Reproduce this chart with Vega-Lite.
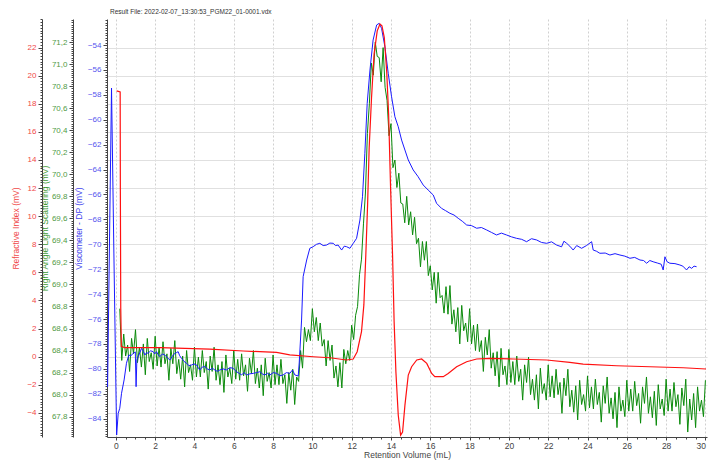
{
"$schema": "https://vega.github.io/schema/vega-lite/v6.json",
"width": 600, "height": 418,
"autosize": {"type": "none"},
"padding": {"left": 107, "top": 19, "right": 2, "bottom": 24},
"background": "white",
"title": {"text": "Result File: 2022-02-07_13:30:53_PGM22_01-0001.vdx", "anchor": "start", "frame": "group", "fontSize": 6.5, "fontWeight": "normal", "color": "#333333", "offset": 3, "dx": 3, "font": "Liberation Sans"},
"config": {"view": {"stroke": null}, "font": "Liberation Sans", "axis": {"labelFontSize": 8, "titleFontSize": 8.5, "titleFontWeight": "normal", "tickColor": "#444444", "domainColor": "#444444", "labelOverlap": false, "labelFlush": false}},
"datasets": {
"green": [
{"v":0.2,"g":68.78},{"v":0.3,"g":68.31},{"v":0.4,"g":68.55},{"v":0.5,"g":68.35},{"v":0.6,"g":68.45},{"v":0.7,"g":68.21},{"v":0.8,"g":68.51},{"v":0.9,"g":68.37},{"v":1.0,"g":68.59},{"v":1.1,"g":68.29},
{"v":1.2,"g":68.43},{"v":1.3,"g":68.25},{"v":1.4,"g":68.46},{"v":1.5,"g":68.18},{"v":1.6,"g":68.51},{"v":1.7,"g":68.30},{"v":1.8,"g":68.38},{"v":1.9,"g":68.23},{"v":2.0,"g":68.53},{"v":2.1,"g":68.26},
{"v":2.2,"g":68.43},{"v":2.3,"g":68.25},{"v":2.4,"g":68.48},{"v":2.5,"g":68.28},{"v":2.6,"g":68.37},{"v":2.7,"g":68.13},{"v":2.8,"g":68.42},{"v":2.9,"g":68.28},{"v":3.0,"g":68.49},{"v":3.1,"g":68.19},
{"v":3.2,"g":68.32},{"v":3.3,"g":68.14},{"v":3.4,"g":68.35},{"v":3.5,"g":68.07},{"v":3.6,"g":68.40},{"v":3.7,"g":68.20},{"v":3.8,"g":68.27},{"v":3.9,"g":68.13},{"v":4.0,"g":68.43},{"v":4.1,"g":68.16},
{"v":4.2,"g":68.34},{"v":4.3,"g":68.16},{"v":4.4,"g":68.40},{"v":4.5,"g":68.20},{"v":4.6,"g":68.30},{"v":4.7,"g":68.05},{"v":4.8,"g":68.35},{"v":4.9,"g":68.21},{"v":5.0,"g":68.43},{"v":5.1,"g":68.13},
{"v":5.2,"g":68.27},{"v":5.3,"g":68.09},{"v":5.4,"g":68.30},{"v":5.5,"g":68.02},{"v":5.6,"g":68.36},{"v":5.7,"g":68.16},{"v":5.8,"g":68.24},{"v":5.9,"g":68.10},{"v":6.0,"g":68.40},{"v":6.1,"g":68.14},
{"v":6.2,"g":68.32},{"v":6.3,"g":68.13},{"v":6.4,"g":68.37},{"v":6.5,"g":68.17},{"v":6.6,"g":68.27},{"v":6.7,"g":68.03},{"v":6.8,"g":68.33},{"v":6.9,"g":68.19},{"v":7.0,"g":68.40},{"v":7.1,"g":68.10},
{"v":7.2,"g":68.24},{"v":7.3,"g":68.06},{"v":7.4,"g":68.27},{"v":7.5,"g":67.99},{"v":7.6,"g":68.33},{"v":7.7,"g":68.12},{"v":7.8,"g":68.20},{"v":7.9,"g":68.06},{"v":8.0,"g":68.36},{"v":8.1,"g":68.09},
{"v":8.2,"g":68.27},{"v":8.3,"g":68.09},{"v":8.4,"g":68.32},{"v":8.5,"g":68.10},{"v":8.6,"g":68.18},{"v":8.7,"g":67.92},{"v":8.8,"g":68.20},{"v":8.9,"g":68.04},{"v":9.0,"g":68.23},{"v":9.1,"g":67.91},
{"v":9.2,"g":68.16},{"v":9.3,"g":68.12},{"v":9.4,"g":68.40},{"v":9.5,"g":68.24},{"v":9.6,"g":68.61},{"v":9.7,"g":68.48},{"v":9.8,"g":68.59},{"v":9.9,"g":68.49},{"v":10.0,"g":68.78},{"v":10.1,"g":68.57},
{"v":10.2,"g":68.70},{"v":10.3,"g":68.49},{"v":10.4,"g":68.65},{"v":10.5,"g":68.44},{"v":10.6,"g":68.50},{"v":10.7,"g":68.26},{"v":10.8,"g":68.49},{"v":10.9,"g":68.31},{"v":11.0,"g":68.45},{"v":11.1,"g":68.15},
{"v":11.2,"g":68.26},{"v":11.3,"g":68.07},{"v":11.4,"g":68.29},{"v":11.5,"g":68.06},{"v":11.6,"g":68.41},{"v":11.7,"g":68.28},{"v":11.8,"g":68.40},{"v":11.9,"g":68.31},{"v":12.0,"g":68.63},{"v":12.1,"g":68.50},
{"v":12.2,"g":68.72},{"v":12.3,"g":68.80},{"v":12.4,"g":69.09},{"v":12.5,"g":69.23},{"v":12.6,"g":69.55},{"v":12.7,"g":69.83},{"v":12.8,"g":70.37},{"v":12.9,"g":70.64},{"v":13.0,"g":71.01},{"v":13.1,"g":70.90},
{"v":13.2,"g":71.20},{"v":13.3,"g":71.07},{"v":13.4,"g":71.06},{"v":13.5,"g":70.84},{"v":13.6,"g":71.15},{"v":13.7,"g":70.79},{"v":13.8,"g":70.67},{"v":13.9,"g":70.35},{"v":14.0,"g":70.46},{"v":14.1,"g":70.06},
{"v":14.2,"g":70.13},{"v":14.3,"g":69.88},{"v":14.4,"g":70.01},{"v":14.5,"g":69.74},{"v":14.6,"g":69.73},{"v":14.7,"g":69.56},{"v":14.8,"g":69.80},{"v":14.9,"g":69.54},{"v":15.0,"g":69.66},{"v":15.1,"g":69.45},
{"v":15.2,"g":69.61},{"v":15.3,"g":69.37},{"v":15.4,"g":69.42},{"v":15.5,"g":69.16},{"v":15.6,"g":69.39},{"v":15.7,"g":69.22},{"v":15.8,"g":69.39},{"v":15.9,"g":69.08},{"v":16.0,"g":69.17},{"v":16.1,"g":68.95},
{"v":16.2,"g":69.11},{"v":16.3,"g":68.83},{"v":16.4,"g":69.11},{"v":16.5,"g":68.88},{"v":16.6,"g":68.90},{"v":16.7,"g":68.74},{"v":16.8,"g":68.98},{"v":16.9,"g":68.73},{"v":17.0,"g":68.99},{"v":17.1,"g":68.64},
{"v":17.2,"g":68.77},{"v":17.3,"g":68.57},{"v":17.4,"g":68.79},{"v":17.5,"g":68.46},{"v":17.6,"g":68.81},{"v":17.7,"g":68.58},{"v":17.8,"g":68.65},{"v":17.9,"g":68.48},{"v":18.0,"g":68.78},{"v":18.1,"g":68.46},
{"v":18.2,"g":68.63},{"v":18.3,"g":68.40},{"v":18.4,"g":68.64},{"v":18.5,"g":68.39},{"v":18.6,"g":68.49},{"v":18.7,"g":68.21},{"v":18.8,"g":68.52},{"v":18.9,"g":68.36},{"v":19.0,"g":68.59},{"v":19.1,"g":68.24},
{"v":19.2,"g":68.38},{"v":19.3,"g":68.17},{"v":19.4,"g":68.39},{"v":19.5,"g":68.07},{"v":19.6,"g":68.42},{"v":19.7,"g":68.18},{"v":19.8,"g":68.26},{"v":19.9,"g":68.09},{"v":20.0,"g":68.41},{"v":20.1,"g":68.11},
{"v":20.2,"g":68.30},{"v":20.3,"g":68.09},{"v":20.4,"g":68.35},{"v":20.5,"g":68.12},{"v":20.6,"g":68.23},{"v":20.7,"g":67.95},{"v":20.8,"g":68.27},{"v":20.9,"g":68.11},{"v":21.0,"g":68.34},{"v":21.1,"g":68.00},
{"v":21.2,"g":68.14},{"v":21.3,"g":67.95},{"v":21.4,"g":68.18},{"v":21.5,"g":67.87},{"v":21.6,"g":68.24},{"v":21.7,"g":68.01},{"v":21.8,"g":68.10},{"v":21.9,"g":67.95},{"v":22.0,"g":68.27},{"v":22.1,"g":67.98},
{"v":22.2,"g":68.17},{"v":22.3,"g":67.97},{"v":22.4,"g":68.23},{"v":22.5,"g":68.00},{"v":22.6,"g":68.11},{"v":22.7,"g":67.83},{"v":22.8,"g":68.15},{"v":22.9,"g":67.99},{"v":23.0,"g":68.23},{"v":23.1,"g":67.89},
{"v":23.2,"g":68.04},{"v":23.3,"g":67.84},{"v":23.4,"g":68.08},{"v":23.5,"g":67.77},{"v":23.6,"g":68.13},{"v":23.7,"g":67.91},{"v":23.8,"g":68.00},{"v":23.9,"g":67.85},{"v":24.0,"g":68.17},{"v":24.1,"g":67.88},
{"v":24.2,"g":68.07},{"v":24.3,"g":67.87},{"v":24.4,"g":68.14},{"v":24.5,"g":67.91},{"v":24.6,"g":68.02},{"v":24.7,"g":67.75},{"v":24.8,"g":68.08},{"v":24.9,"g":67.92},{"v":25.0,"g":68.16},{"v":25.1,"g":67.83},
{"v":25.2,"g":67.97},{"v":25.3,"g":67.78},{"v":25.4,"g":68.02},{"v":25.5,"g":67.70},{"v":25.6,"g":68.07},{"v":25.7,"g":67.85},{"v":25.8,"g":67.95},{"v":25.9,"g":67.80},{"v":26.0,"g":68.13},{"v":26.1,"g":67.85},
{"v":26.2,"g":68.05},{"v":26.3,"g":67.85},{"v":26.4,"g":68.12},{"v":26.5,"g":67.90},{"v":26.6,"g":68.01},{"v":26.7,"g":67.74},{"v":26.8,"g":68.07},{"v":26.9,"g":67.92},{"v":27.0,"g":68.16},{"v":27.1,"g":67.83},
{"v":27.2,"g":67.98},{"v":27.3,"g":67.79},{"v":27.4,"g":68.03},{"v":27.5,"g":67.72},{"v":27.6,"g":68.09},{"v":27.7,"g":67.87},{"v":27.8,"g":67.96},{"v":27.9,"g":67.81},{"v":28.0,"g":68.14},{"v":28.1,"g":67.85},
{"v":28.2,"g":68.05},{"v":28.3,"g":67.85},{"v":28.4,"g":68.11},{"v":28.5,"g":67.89},{"v":28.6,"g":68.00},{"v":28.7,"g":67.73},{"v":28.8,"g":68.06},{"v":28.9,"g":67.90},{"v":29.0,"g":68.14},{"v":29.1,"g":67.66},
{"v":29.2,"g":67.96},{"v":29.3,"g":67.77},{"v":29.4,"g":68.01},{"v":29.5,"g":67.70},{"v":29.6,"g":68.07},{"v":29.7,"g":67.85},{"v":29.8,"g":67.95},{"v":29.9,"g":67.80},{"v":30.0,"g":68.13}
],
"blue": [
{"v":-0.42,"b":-81.45},{"v":-0.32,"b":-69.41},{"v":-0.22,"b":-57.45},{"v":-0.10,"b":-70.70},{"v":0.04,"b":-85.31},{"v":0.12,"b":-83.57},{"v":0.20,"b":-83.16},{"v":0.29,"b":-81.96},{"v":0.42,"b":-80.89},{"v":0.54,"b":-79.55},
{"v":0.66,"b":-78.89},{"v":0.77,"b":-78.95},{"v":0.88,"b":-78.75},{"v":0.99,"b":-78.64},{"v":1.03,"b":-81.43},{"v":1.07,"b":-79.29},{"v":1.13,"b":-79.02},{"v":1.22,"b":-78.70},{"v":1.31,"b":-78.35},{"v":1.40,"b":-78.60},
{"v":1.48,"b":-78.89},{"v":1.56,"b":-78.70},{"v":1.64,"b":-78.75},{"v":1.77,"b":-78.55},{"v":1.90,"b":-78.62},{"v":1.98,"b":-78.80},{"v":2.07,"b":-78.62},{"v":2.15,"b":-78.85},{"v":2.24,"b":-79.02},{"v":2.37,"b":-78.80},
{"v":2.49,"b":-78.89},{"v":2.62,"b":-79.10},{"v":2.75,"b":-79.29},{"v":2.87,"b":-79.00},{"v":3.00,"b":-78.75},{"v":3.08,"b":-78.70},{"v":3.17,"b":-78.62},{"v":3.25,"b":-78.95},{"v":3.34,"b":-79.15},{"v":3.47,"b":-79.40},
{"v":3.60,"b":-79.55},{"v":3.72,"b":-79.75},{"v":3.85,"b":-79.69},{"v":3.98,"b":-79.60},{"v":4.11,"b":-79.69},{"v":4.19,"b":-79.90},{"v":4.27,"b":-80.09},{"v":4.40,"b":-79.85},{"v":4.53,"b":-79.82},{"v":4.65,"b":-80.00},
{"v":4.78,"b":-80.09},{"v":4.91,"b":-79.95},{"v":5.04,"b":-80.09},{"v":5.16,"b":-80.20},{"v":5.29,"b":-80.09},{"v":5.46,"b":-80.00},{"v":5.63,"b":-80.09},{"v":5.80,"b":-79.90},{"v":5.97,"b":-79.95},{"v":6.05,"b":-80.10},
{"v":6.14,"b":-80.23},{"v":6.27,"b":-80.35},{"v":6.40,"b":-80.49},{"v":6.52,"b":-80.30},{"v":6.65,"b":-80.49},{"v":6.82,"b":-80.40},{"v":6.99,"b":-80.36},{"v":7.16,"b":-80.30},{"v":7.33,"b":-80.23},{"v":7.45,"b":-80.40},
{"v":7.58,"b":-80.49},{"v":7.71,"b":-80.35},{"v":7.84,"b":-80.49},{"v":8.01,"b":-80.30},{"v":8.18,"b":-80.36},{"v":8.35,"b":-80.55},{"v":8.51,"b":-80.49},{"v":8.68,"b":-80.30},{"v":8.85,"b":-80.36},{"v":8.99,"b":-80.09},
{"v":9.11,"b":-80.49},{"v":9.28,"b":-80.57},{"v":9.33,"b":-79.53},{"v":9.45,"b":-76.08},{"v":9.53,"b":-72.60},{"v":9.71,"b":-71.26},{"v":9.87,"b":-70.32},{"v":10.04,"b":-70.19},{"v":10.21,"b":-70.00},{"v":10.38,"b":-69.92},
{"v":10.55,"b":-70.10},{"v":10.72,"b":-70.06},{"v":10.89,"b":-69.90},{"v":11.06,"b":-69.92},{"v":11.18,"b":-70.10},{"v":11.31,"b":-70.06},{"v":11.49,"b":-70.46},{"v":11.62,"b":-70.15},{"v":11.74,"b":-70.19},{"v":11.91,"b":-70.32},
{"v":12.08,"b":-69.92},{"v":12.25,"b":-69.52},{"v":12.42,"b":-68.05},{"v":12.55,"b":-66.18},{"v":12.67,"b":-62.69},{"v":12.79,"b":-58.68},{"v":12.93,"b":-56.01},{"v":13.09,"b":-53.60},{"v":13.27,"b":-52.39},{"v":13.40,"b":-52.26},
{"v":13.52,"b":-52.66},{"v":13.69,"b":-54.14},{"v":13.86,"b":-56.27},{"v":14.03,"b":-58.15},{"v":14.20,"b":-59.76},{"v":14.37,"b":-60.56},{"v":14.54,"b":-61.63},{"v":14.71,"b":-62.43},{"v":14.88,"b":-63.23},{"v":15.13,"b":-64.03},
{"v":15.38,"b":-64.57},{"v":15.64,"b":-65.24},{"v":15.89,"b":-65.64},{"v":16.15,"b":-66.04},{"v":16.32,"b":-66.71},{"v":16.57,"b":-67.11},{"v":16.78,"b":-67.30},{"v":17.00,"b":-67.51},{"v":17.21,"b":-67.65},{"v":17.42,"b":-67.91},
{"v":17.63,"b":-68.15},{"v":17.85,"b":-68.45},{"v":18.10,"b":-68.50},{"v":18.36,"b":-68.71},{"v":18.60,"b":-68.65},{"v":18.87,"b":-68.85},{"v":19.12,"b":-69.05},{"v":19.37,"b":-69.25},{"v":19.62,"b":-69.10},{"v":19.88,"b":-69.25},
{"v":20.13,"b":-69.40},{"v":20.39,"b":-69.52},{"v":20.65,"b":-69.60},{"v":20.90,"b":-69.79},{"v":21.15,"b":-69.55},{"v":21.41,"b":-69.65},{"v":21.66,"b":-69.85},{"v":21.92,"b":-69.92},{"v":22.17,"b":-69.80},{"v":22.43,"b":-70.06},
{"v":22.68,"b":-70.20},{"v":22.80,"b":-69.75},{"v":22.94,"b":-69.92},{"v":23.10,"b":-70.15},{"v":23.27,"b":-70.46},{"v":23.45,"b":-70.10},{"v":23.70,"b":-70.32},{"v":23.95,"b":-70.10},{"v":24.21,"b":-69.79},{"v":24.29,"b":-70.46},
{"v":24.45,"b":-70.55},{"v":24.63,"b":-70.72},{"v":24.90,"b":-70.70},{"v":25.14,"b":-70.86},{"v":25.40,"b":-70.75},{"v":25.65,"b":-70.86},{"v":25.90,"b":-70.95},{"v":26.16,"b":-71.12},{"v":26.40,"b":-71.05},{"v":26.67,"b":-71.26},
{"v":26.85,"b":-71.30},{"v":27.01,"b":-71.52},{"v":27.17,"b":-71.30},{"v":27.34,"b":-71.40},{"v":27.55,"b":-71.50},{"v":27.75,"b":-71.60},{"v":27.85,"b":-72.06},{"v":27.94,"b":-71.00},{"v":28.05,"b":-71.40},{"v":28.19,"b":-71.52},
{"v":28.45,"b":-71.55},{"v":28.70,"b":-71.66},{"v":28.85,"b":-71.75},{"v":29.04,"b":-72.06},{"v":29.17,"b":-71.80},{"v":29.30,"b":-71.93},{"v":29.42,"b":-71.75},{"v":29.55,"b":-71.80}
],
"red": [
{"v":0.04,"r":18.91},{"v":0.22,"r":18.84},{"v":0.23,"r":11.77},{"v":0.25,"r":3.44},{"v":0.28,"r":0.71},{"v":0.46,"r":0.64},{"v":2.24,"r":0.64},{"v":4.78,"r":0.54},{"v":6.48,"r":0.40},{"v":8.18,"r":0.30},
{"v":8.85,"r":0.12},{"v":10.04,"r":-0.01},{"v":10.89,"r":-0.08},{"v":11.74,"r":-0.24},{"v":12.08,"r":-0.17},{"v":12.28,"r":0.35},{"v":12.50,"r":1.78},{"v":12.62,"r":3.68},{"v":12.72,"r":7.25},{"v":12.81,"r":10.82},
{"v":12.89,"r":14.86},{"v":13.01,"r":18.43},{"v":13.14,"r":21.53},{"v":13.30,"r":23.19},{"v":13.44,"r":23.67},{"v":13.54,"r":23.55},{"v":13.66,"r":22.71},{"v":13.78,"r":20.34},{"v":13.88,"r":17.25},{"v":13.98,"r":12.01},
{"v":14.08,"r":7.25},{"v":14.16,"r":2.49},{"v":14.25,"r":-1.08},{"v":14.37,"r":-4.17},{"v":14.49,"r":-5.59},{"v":14.59,"r":-5.36},{"v":14.71,"r":-3.45},{"v":14.88,"r":-1.31},{"v":15.05,"r":-0.72},{"v":15.31,"r":-0.24},
{"v":15.56,"r":-0.17},{"v":15.82,"r":-0.48},{"v":16.07,"r":-1.20},{"v":16.23,"r":-1.43},{"v":16.66,"r":-1.43},{"v":16.91,"r":-1.20},{"v":17.34,"r":-0.72},{"v":17.85,"r":-0.36},{"v":18.36,"r":-0.17},{"v":19.03,"r":-0.13},
{"v":20.22,"r":-0.17},{"v":21.92,"r":-0.24},{"v":23.10,"r":-0.41},{"v":23.78,"r":-0.53},{"v":25.48,"r":-0.65},{"v":27.18,"r":-0.72},{"v":28.87,"r":-0.79},{"v":30.03,"r":-0.88}
]
},
"layer": [
{
"data": {"name": "green"},
"mark": {"type": "line", "color": "#0a8a0a", "strokeWidth": 1, "clip": true},
"encoding": {
"x": {"field": "v", "type": "quantitative", "scale": {"domain": [-0.45, 30.08], "nice": false, "zero": false},
"axis": {"orient": "bottom", "values": [0,2,4,6,8,10,12,14,16,18,20,22,24,26,28,30], "title": "Retention Volume (mL)", "grid": true, "gridDash": [2,2], "gridColor": "#d0d0d0", "tickSize": 3, "labelPadding": 1, "titlePadding": 1, "labelColor": "#444444", "titleColor": "#444444", "labelFontSize": 8.5, "titleFontSize": 8.5, "labelFlush": 3}},
"y": {"field": "g", "type": "quantitative", "scale": {"domain": [67.615, 71.41], "nice": false, "zero": false},
"axis": {"orient": "left", "offset": 34, "values": [67.8,68,68.2,68.4,68.6,68.8,69,69.2,69.4,69.6,69.8,70,70.2,70.4,70.6,70.8,71,71.2], "labelExpr": "replace(format(datum.value, '.1f'), '.', ',')", "title": "Right Angle Light Scattering (mV)", "labelColor": "#4f9a45", "titleColor": "#3f9a35", "grid": false, "tickSize": 4, "labelPadding": 2, "titlePadding": 2}}
}
},
{
"data": {"name": "blue"},
"mark": {"type": "line", "color": "#1a1aff", "strokeWidth": 1, "clip": true},
"encoding": {
"x": {"field": "v", "type": "quantitative", "scale": {"domain": [-0.45, 30.08], "nice": false, "zero": false}, "axis": null},
"y": {"field": "b", "type": "quantitative", "scale": {"domain": [-85.47, -51.91], "nice": false, "zero": false},
"axis": {"orient": "left", "offset": 0, "values": [-84,-82,-80,-78,-76,-74,-72,-70,-68,-66,-64,-62,-60,-58,-56,-54], "title": "Viscometer - DP (mV)", "labelColor": "#5555ee", "titleColor": "#4444ee", "grid": false, "tickSize": 4, "labelPadding": 2, "titlePadding": 4}}
}
},
{
"data": {"name": "red"},
"mark": {"type": "line", "color": "#ff1010", "strokeWidth": 1.2, "clip": true},
"encoding": {
"x": {"field": "v", "type": "quantitative", "scale": {"domain": [-0.45, 30.08], "nice": false, "zero": false}, "axis": null},
"y": {"field": "r", "type": "quantitative", "scale": {"domain": [-5.72, 24.03], "nice": false, "zero": false},
"axis": {"orient": "left", "offset": 65, "values": [-4,-2,0,2,4,6,8,10,12,14,16,18,20,22], "title": "Refractive Index (mV)", "labelColor": "#f04848", "titleColor": "#f04848", "grid": true, "gridColor": "#e0e0e0", "tickSize": 4, "labelPadding": 2, "titlePadding": 6}}
}
},
{
"data": {"name": "red"},
"mark": {"type": "line", "opacity": 0, "clip": true},
"encoding": {
"x": {"field": "v", "type": "quantitative", "scale": {"domain": [-0.45, 30.08], "nice": false, "zero": false},
"axis": {"orient": "bottom", "tickCount": 60, "labels": false, "domain": false, "grid": false, "title": null, "tickSize": 2}},
"y": {"field": "r", "type": "quantitative", "scale": {"domain": [-5.72, 24.03], "nice": false, "zero": false},
"axis": {"orient": "left", "offset": 65, "tickCount": 120, "labels": false, "domain": false, "grid": false, "title": null, "tickSize": 2}}
}
},
{
"data": {"name": "green"},
"mark": {"type": "line", "opacity": 0, "clip": true},
"encoding": {
"x": {"field": "v", "type": "quantitative", "scale": {"domain": [-0.45, 30.08], "nice": false, "zero": false}, "axis": null},
"y": {"field": "g", "type": "quantitative", "scale": {"domain": [67.615, 71.41], "nice": false, "zero": false},
"axis": {"orient": "left", "offset": 34, "tickCount": 150, "labels": false, "domain": false, "grid": false, "title": null, "tickSize": 2}}
}
},
{
"data": {"name": "blue"},
"mark": {"type": "line", "opacity": 0, "clip": true},
"encoding": {
"x": {"field": "v", "type": "quantitative", "scale": {"domain": [-0.45, 30.08], "nice": false, "zero": false}, "axis": null},
"y": {"field": "b", "type": "quantitative", "scale": {"domain": [-85.47, -51.91], "nice": false, "zero": false},
"axis": {"orient": "left", "offset": 0, "tickCount": 130, "labels": false, "domain": false, "grid": false, "title": null, "tickSize": 2}}
}
}
],
"resolve": {"scale": {"y": "independent"}, "axis": {"y": "independent", "x": "independent"}}
}
